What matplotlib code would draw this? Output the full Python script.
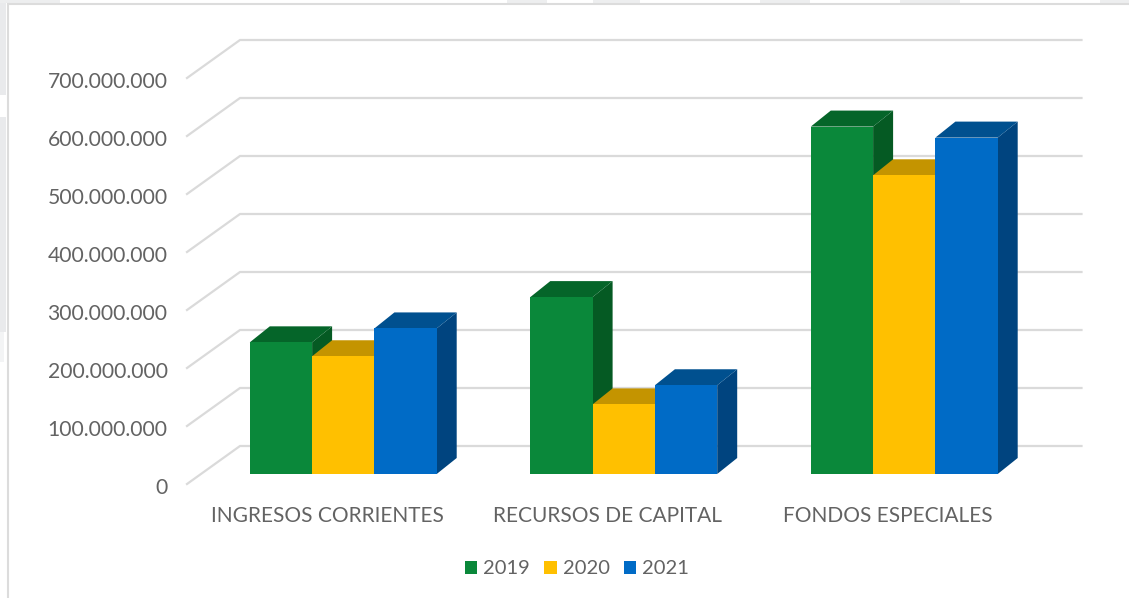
import matplotlib
matplotlib.use("Agg")
import matplotlib.pyplot as plt
from matplotlib.patches import Polygon, Rectangle
from matplotlib.transforms import ScaledTranslation

categories = ["INGRESOS CORRIENTES", "RECURSOS DE CAPITAL", "FONDOS ESPECIALES"]
series_names = ["2019", "2020", "2021"]
values_2019 = [227e6, 305e6, 599e6]
values_2020 = [203e6, 120e6, 515e6]
values_2021 = [251e6, 153e6, 580e6]
tick_values = [0, 100e6, 200e6, 300e6, 400e6, 500e6, 600e6, 700e6]
tick_labels = ["0", "100.000.000", "200.000.000", "300.000.000", "400.000.000",
               "500.000.000", "600.000.000", "700.000.000"]
front_colors = ["#0A883A", "#FFC000", "#006BC6"]
top_colors = ["#056529", "#C49400", "#00508F"]
side_colors = ["#055A23", "#A87F00", "#00447F"]

W, H = 1129, 598
DPI = 100
GRID = "#DADADA"
TEXT = "#636363"
FONT = "Lato"

fig = plt.figure(figsize=(W / DPI, H / DPI), dpi=DPI, facecolor="white")

def page_rect(x, y, w, h, color):
    r = Rectangle((x / W, 1 - (y + h) / H), w / W, h / H, transform=fig.transFigure, fc=color, ec="none", zorder=-2)
    fig.add_artist(r)

# page edge behind the chart
page_rect(0, 0, 6, 95, "#E9EAEC")
page_rect(0, 117, 6, 215, "#E9EAEC")
page_rect(0, 332, 4, 30, "#F3F4F5")
for x, w in [(0, 60), (507, 40), (593, 47), (760, 50), (900, 60), (1100, 29)]:
    page_rect(x, 0, w, 3, "#EDEEEF")
fig.add_artist(plt.Line2D([7.5 / W, 7.5 / W], [0, 1 - 3.5 / H], transform=fig.transFigure, color="#DCDCDC", lw=1.5, zorder=-1))
fig.add_artist(plt.Line2D([7.5 / W, 1], [1 - 3.5 / H, 1 - 3.5 / H], transform=fig.transFigure, color="#DCDCDC", lw=1.5, zorder=-1))

# front plane of the 3D box, in pixels
left, right, y0, y7 = 187, 1028.5, 484, 78
ax = fig.add_axes([left / W, 1 - y0 / H, (right - left) / W, (y0 - y7) / H])
ax.set_xlim(-0.5, 2.5)
ax.set_ylim(0, 700e6)
ax.patch.set_alpha(0)
for s in ax.spines.values():
    s.set_visible(False)

def off(dx, dy):
    return ax.transData + ScaledTranslation(dx / DPI, dy / DPI, fig.dpi_scale_trans)

WALL = (53, 38)
BAR_F = (16, 10)
BAR_B = (36, 26)
BW = 62.3 / ((right - left) / 3)

inv = ax.transData.inverted()
pf = lambda x, y: inv.transform(off(*BAR_F).transform((x, y)))
pb = lambda x, y: inv.transform(off(*BAR_B).transform((x, y)))

# gridlines: side diagonal + back wall
for v in tick_values:
    pts = inv.transform([off(0, 0).transform((-0.5, v)),
                         off(*WALL).transform((-0.5, v)),
                         off(*WALL).transform((2.5, v))])
    ax.plot(pts[:, 0], pts[:, 1], color=GRID, lw=1.6, clip_on=False, solid_joinstyle="miter", zorder=1)

series = [values_2019, values_2020, values_2021]
for c in range(len(categories)):
    for s, vals in enumerate(series):
        x0 = c + (s - 1.5) * BW
        x1 = x0 + BW
        v = vals[c]
        z = 3 + s * 0.1
        ax.add_patch(Polygon([pf(x1, 0), pb(x1, 0), pb(x1, v), pf(x1, v)], fc=side_colors[s], ec="none", zorder=z, clip_on=False))
        ax.add_patch(Polygon([pf(x0, v), pb(x0, v), pb(x1, v), pf(x1, v)], fc=top_colors[s], ec="none", zorder=z, clip_on=False))
    for s, vals in enumerate(series):
        x0 = c + (s - 1.5) * BW
        x1 = x0 + BW
        v = vals[c]
        ax.add_patch(Polygon([pf(x0, 0), pf(x1, 0), pf(x1, v), pf(x0, v)], fc=front_colors[s], ec="none", zorder=3.5 + s * 0.1, clip_on=False))

ax.set_yticks(tick_values, tick_labels, fontsize=15.2, color=TEXT, family=FONT)
ax.set_xticks(range(3), categories, fontsize=15, color=TEXT, family=FONT)
ax.tick_params(axis="both", length=0)
ax.tick_params(axis="y", pad=14)
ax.tick_params(axis="x", pad=16)
label_shift = ScaledTranslation(0, -2 / DPI, fig.dpi_scale_trans)
for lab in ax.get_yticklabels():
    lab.set_transform(lab.get_transform() + label_shift)

handles = [Rectangle((0, 0), 1, 1, fc=c, ec="none") for c in front_colors]
fig.legend(handles, series_names, loc="center", bbox_to_anchor=(577 / W, 1 - 569 / H), ncol=3, frameon=False,
           prop={"family": FONT, "size": 14.5}, labelcolor=TEXT, handlelength=0.62, handleheight=0.62,
           handletextpad=0.3, columnspacing=0.7)

fig.savefig("out.png", dpi=DPI)
